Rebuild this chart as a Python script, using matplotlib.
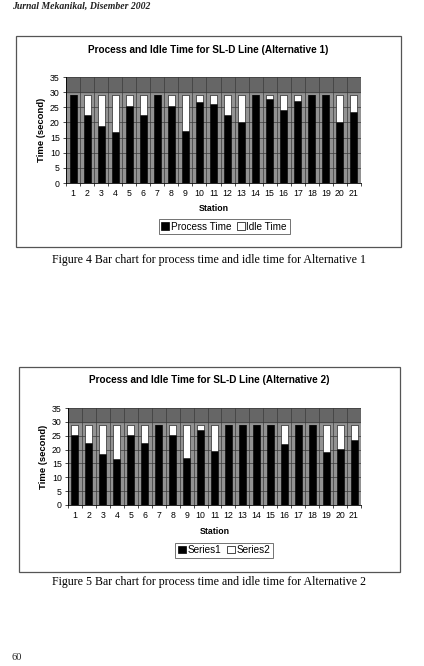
import matplotlib
matplotlib.use("Agg")
import matplotlib.pyplot as plt
from matplotlib.patches import Rectangle, Patch
import numpy as np

W, H = 424, 666

stations = list(range(1, 21 + 1))
cycle_time = 29
process_alt1 = [29, 22.3, 18.7, 16.8, 25.3, 22.3, 29, 25.3, 17.2, 26.7, 26.2,
                22.6, 20.1, 29, 27.6, 24, 27, 29, 29, 20.1, 23.4]
idle_alt1 = [cycle_time - p for p in process_alt1]
process_alt2 = [25.2, 22.2, 18.4, 16.6, 25.2, 22.2, 29, 25.2, 16.8, 27, 19.4,
                29, 29, 29, 29, 21.9, 29, 29, 19, 20.2, 23.4]
idle_alt2 = [cycle_time - p for p in process_alt2]
yticks = [0, 5, 10, 15, 20, 25, 30, 35]

fig = plt.figure(figsize=(W / 100, H / 100), dpi=100)
fig.patch.set_facecolor("white")


def rect(x0, y0, x1, y1):
    return [x0 / W, 1 - y1 / H, (x1 - x0) / W, (y1 - y0) / H]


def fx(x):
    return x / W


def fy(y):
    return 1 - y / H


sans = "Liberation Sans"
serif = "Liberation Serif"

# header
fig.text(fx(12), fy(6), "Jurnal Mekanikal, Disember 2002", family=serif,
         style="italic", weight="bold", fontsize=7, ha="left", va="center",
         color="#222222")
fig.text(fx(12), fy(658), "60", family=serif, fontsize=7.5, ha="left",
         va="center", color="#222222")


def draw_chart(box, plot, title, title_y, proc, idle, xlabel_y, legend_box,
               labels, caption, caption_y):
    bx0, by0, bx1, by1 = box
    fig.patches.append(Rectangle((fx(bx0), fy(by1)), (bx1 - bx0) / W,
                                 (by1 - by0) / H, transform=fig.transFigure,
                                 fill=False, edgecolor="#555555", lw=0.9))
    fig.text(fx((bx0 + bx1) / 2), fy(title_y), title, family=sans,
             weight="bold", fontsize=7.2, ha="center", va="center")
    ax = fig.add_axes(rect(*plot))
    ax.set_facecolor("#929292")
    ax.axhspan(30, 35, color="#666666", zorder=0)
    x = np.arange(1, len(proc) + 1)
    ax.bar(x, proc, width=0.5, color="black", edgecolor="black", lw=0.4,
           zorder=3)
    ax.bar(x, idle, bottom=proc, width=0.5, color="white",
           edgecolor="black", lw=0.4, zorder=3)
    ax.set_xlim(0.5, len(proc) + 0.5)
    ax.set_ylim(0, 35)
    ax.set_yticks(yticks)
    ax.set_xticks(x)
    ax.set_xticklabels([str(s) for s in stations])
    ax.set_xticks(np.arange(0.5, len(proc) + 1, 1), minor=True)
    ax.tick_params(axis="x", which="major", length=0, pad=4, labelsize=6.3)
    ax.tick_params(axis="x", which="minor", length=2.5, width=0.5)
    ax.tick_params(axis="y", length=2.5, width=0.5, pad=2, labelsize=6.3)
    for lab in ax.get_xticklabels() + ax.get_yticklabels():
        lab.set_family(sans)
    ax.grid(axis="y", which="major", color="#3a3a3a", lw=0.5, zorder=1)
    ax.grid(axis="x", which="minor", color="#3a3a3a", lw=0.5, zorder=1)
    for s in ["top", "right"]:
        ax.spines[s].set_visible(False)
    ax.spines["left"].set_linewidth(0.6)
    ax.spines["bottom"].set_linewidth(0.6)
    ax.set_ylabel("Time (second)", family=sans, weight="bold", fontsize=6.8,
                  labelpad=3)
    fig.text(fx((plot[0] + plot[2]) / 2), fy(xlabel_y), "Station",
             family=sans, weight="bold", fontsize=6.3, ha="center",
             va="center")
    lx0, ly0, lx1, ly1 = legend_box
    handles = [Patch(facecolor="black", edgecolor="black", lw=0.5),
               Patch(facecolor="white", edgecolor="black", lw=0.5)]
    leg = fig.legend(handles, labels, loc="center",
                     bbox_to_anchor=(fx((lx0 + lx1) / 2), fy((ly0 + ly1) / 2)),
                     ncol=2, frameon=True, fancybox=False,
                     prop={"family": sans, "size": 7.2},
                     handlelength=0.8, handleheight=0.8, handletextpad=0.2,
                     columnspacing=0.5, borderpad=0.25, borderaxespad=0)
    leg.get_frame().set_edgecolor("#333333")
    leg.get_frame().set_linewidth(0.6)
    fig.text(fx((bx0 + bx1) / 2), fy(caption_y), caption, family=serif,
             fontsize=8.6, ha="center", va="center")
    return ax


draw_chart((16, 36, 401, 247), (66, 77, 361, 183),
           "Process and Idle Time for SL-D Line (Alternative 1)", 50,
           process_alt1, idle_alt1, 208, (157, 219, 291, 234),
           ["Process Time", "Idle Time"],
           "Figure 4 Bar chart for process time and idle time for Alternative 1",
           260)

draw_chart((19, 367, 400, 572), (68, 408, 361, 505),
           "Process and Idle Time for SL-D Line (Alternative 2)", 380,
           process_alt2, idle_alt2, 531, (175, 543, 273, 557),
           ["Series1", "Series2"],
           "Figure 5 Bar chart for process time and idle time for Alternative 2",
           582)

fig.savefig("out.png", dpi=100)
